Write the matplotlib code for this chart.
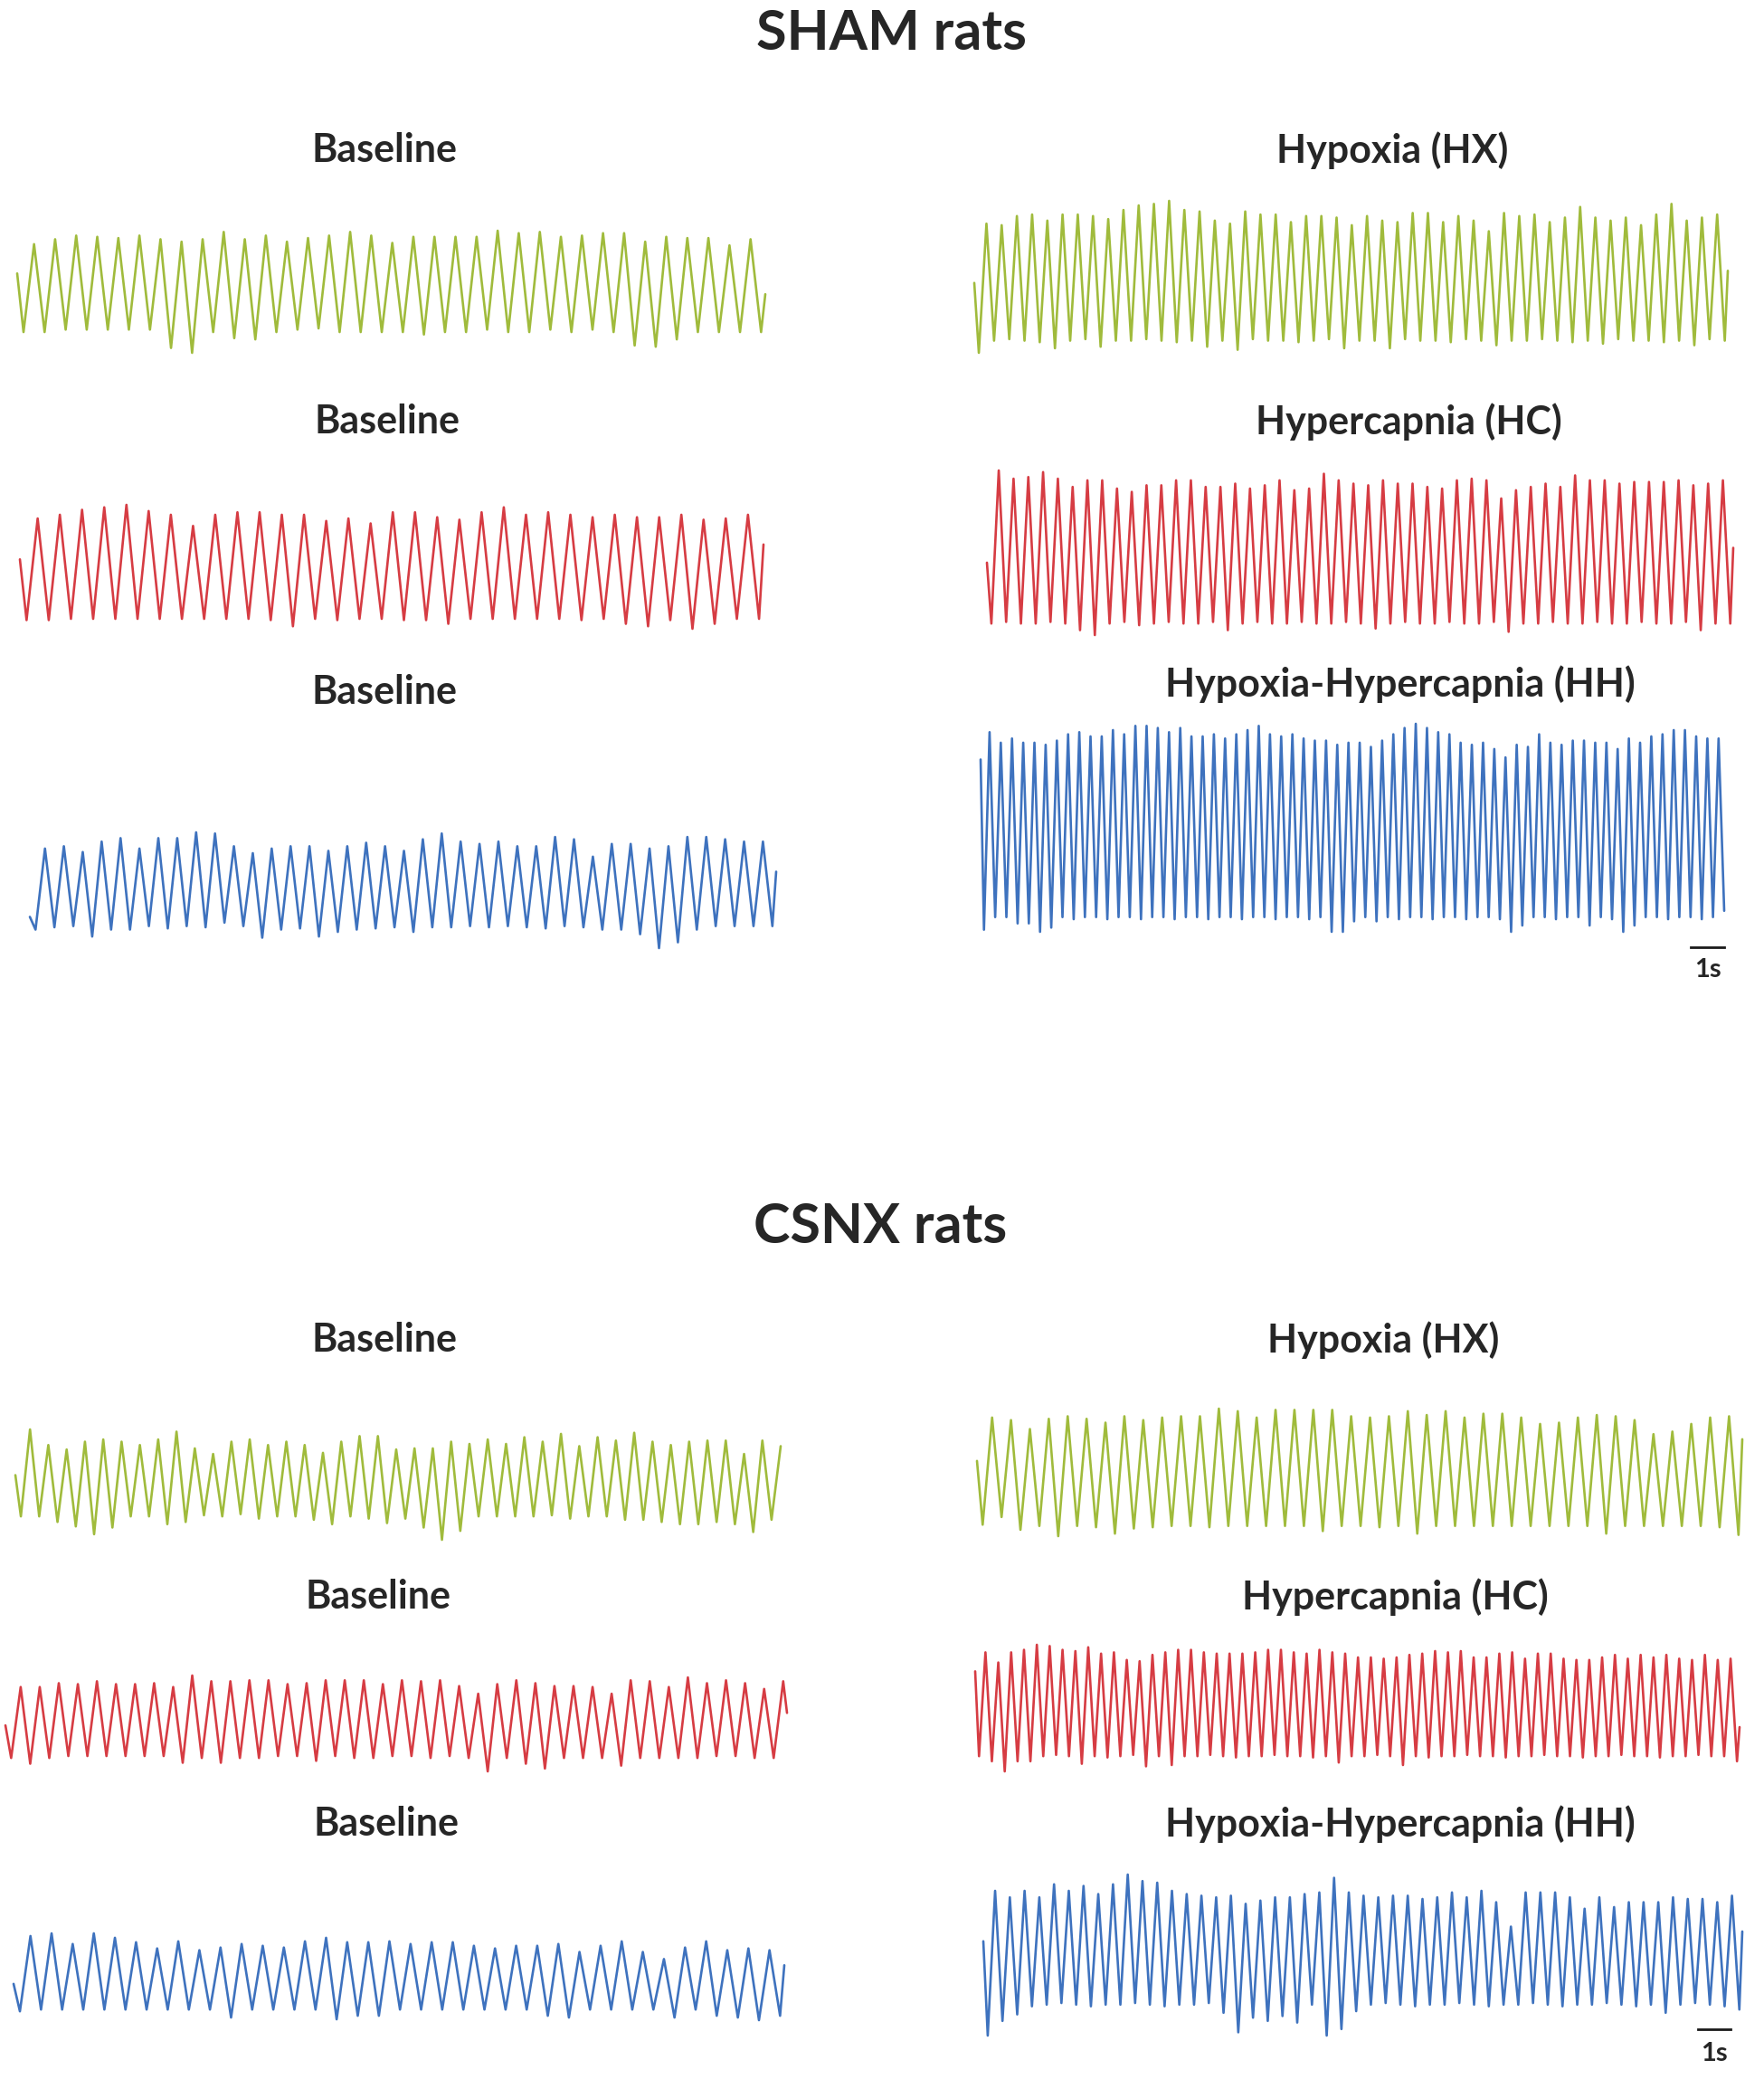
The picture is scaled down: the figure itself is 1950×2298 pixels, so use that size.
import matplotlib
matplotlib.use("Agg")
import matplotlib.pyplot as plt
from matplotlib.lines import Line2D

W, H = 1950, 2298
FONT = ["Lato", "DejaVu Sans"]
GREEN = "#a0bb3c"
RED = "#d63c43"
BLUE = "#3e72be"
TXT = "#262626"

# ---- SHAM rats (0 = lowest point, 100 = highest point of each trace)
sham_base1_start, sham_base1_end = 65, 48
sham_base1_peaks = [89, 93, 96, 95, 94, 96, 93, 91, 93, 99, 93, 96, 91, 94, 96, 99, 96, 90,
                    95, 95, 95, 95, 100, 98, 99, 95, 96, 98, 98, 91, 95, 94, 94, 88, 93]
sham_base1_troughs = [17, 17, 19, 19, 19, 19, 19, 4, 0, 17, 12, 11, 17, 19, 20, 17, 17, 17,
                      17, 15, 17, 17, 19, 17, 17, 19, 17, 19, 17, 6, 5, 11, 17, 17, 17, 17]

sham_hx_start, sham_hx_end = 46, 54
sham_hx_peaks = [85, 84, 90, 91, 87, 91, 91, 90, 88, 94, 97, 98, 100, 94, 93, 87, 85, 93,
                 91, 91, 86, 90, 90, 89, 84, 90, 87, 86, 92, 92, 86, 90, 87, 80, 92, 90,
                 91, 86, 89, 96, 89, 87, 89, 84, 91, 98, 87, 89, 91]
sham_hx_troughs = [0, 8, 9, 8, 7, 3, 8, 9, 4, 8, 8, 9, 8, 7, 8, 4, 8, 2, 9, 8, 8, 7, 8, 9, 3,
                   8, 8, 3, 9, 8, 8, 7, 9, 8, 5, 8, 8, 9, 8, 7, 8, 6, 9, 8, 8, 7, 8, 5, 9, 8]

sham_base2_start, sham_base2_end = 56, 68
sham_base2_peaks = [89, 92, 96, 98, 100, 95, 92, 83, 92, 94, 94, 92, 92, 87, 89, 85, 94,
                    94, 90, 88, 94, 98, 92, 94, 92, 90, 92, 90, 90, 92, 88, 89, 92]
sham_base2_troughs = [7, 7, 8, 8, 8, 8, 8, 8, 8, 8, 8, 7, 2, 8, 7, 8, 8, 7, 7, 4, 8, 8, 8,
                      8, 8, 7, 8, 4, 2, 7, 0, 4, 8, 8]

sham_hc_start, sham_hc_end = 44, 53
sham_hc_peaks = [100, 95, 96, 99, 95, 90, 94, 94, 89, 87, 91, 91, 94, 94, 90, 90, 92, 89,
                 91, 94, 88, 89, 98, 94, 92, 91, 94, 92, 92, 90, 89, 94, 95, 94, 83, 88,
                 90, 92, 90, 97, 94, 94, 92, 93, 93, 93, 94, 91, 92, 94]
sham_hc_troughs = [7, 8, 7, 7, 8, 7, 3, 0, 7, 8, 6, 7, 8, 7, 7, 8, 3, 7, 8, 7, 7, 8, 7, 7,
                   8, 7, 4, 7, 8, 7, 7, 8, 7, 7, 8, 2, 7, 7, 8, 7, 7, 8, 7, 7, 8, 7, 7, 8,
                   3, 7, 7]

sham_base3_start, sham_base3_end = 27, 66
sham_base3_peaks = [86, 88, 83, 92, 95, 86, 95, 95, 100, 99, 88, 82, 86, 88, 88, 84, 88,
                    91, 88, 84, 94, 99, 92, 90, 92, 88, 88, 96, 94, 79, 90, 90, 86, 88,
                    96, 96, 94, 92, 92]
sham_base3_troughs = [16, 18, 19, 10, 16, 16, 19, 17, 19, 18, 22, 19, 9, 16, 17, 10, 14,
                      16, 17, 18, 14, 18, 18, 19, 18, 19, 18, 17, 19, 18, 16, 16, 12, 0,
                      5, 16, 19, 19, 19, 19]

sham_hh_start, sham_hh_end = 83, None
sham_hh_peaks = [96, 91, 93, 91, 91, 90, 92, 95, 96, 94, 94, 97, 95, 99, 99, 98, 96, 98,
                 94, 94, 95, 93, 95, 97, 99, 95, 94, 95, 93, 92, 92, 90, 91, 91, 89, 92,
                 95, 98, 100, 98, 96, 95, 91, 90, 91, 88, 84, 90, 89, 95, 91, 90, 92, 92,
                 91, 91, 88, 93, 91, 94, 95, 97, 97, 94, 93, 93]
sham_hh_troughs = [2, 8, 8, 5, 5, 1, 3, 8, 7, 8, 8, 7, 8, 8, 7, 8, 8, 7, 8, 8, 7, 8, 8, 7,
                   8, 8, 7, 8, 8, 7, 8, 1, 1, 6, 8, 6, 8, 7, 8, 8, 7, 8, 8, 7, 8, 8, 7, 1,
                   4, 8, 8, 7, 8, 8, 4, 8, 7, 1, 4, 8, 8, 7, 8, 8, 7, 8, 11]

# ---- CSNX rats
csnx_base1_start, csnx_base1_end = 58, None
csnx_base1_peaks = [99, 85, 81, 88, 90, 88, 85, 90, 97, 82, 77, 88, 90, 85, 88, 85, 78,
                    88, 93, 93, 81, 82, 82, 88, 86, 90, 86, 92, 88, 95, 84, 92, 89, 96,
                    88, 85, 88, 89, 89, 77, 89, 84]
csnx_base1_troughs = [21, 21, 16, 12, 5, 11, 21, 21, 14, 16, 22, 21, 23, 19, 21, 21, 18,
                      14, 21, 19, 15, 19, 11, 0, 8, 21, 21, 21, 21, 22, 19, 21, 21, 18,
                      18, 16, 14, 14, 16, 14, 7, 18]

csnx_hx_start, csnx_hx_end = 59, 76
csnx_hx_peaks = [93, 91, 84, 92, 94, 92, 89, 94, 91, 93, 94, 94, 100, 98, 93, 99, 99, 99,
                 99, 94, 93, 94, 98, 95, 98, 93, 96, 96, 93, 88, 89, 93, 95, 94, 91, 80,
                 82, 88, 93, 94]
csnx_hx_troughs = [9, 15, 5, 8, 0, 8, 7, 2, 6, 7, 8, 8, 7, 8, 8, 8, 8, 8, 4, 8, 8, 7, 8,
                   2, 8, 8, 8, 8, 8, 8, 8, 8, 8, 2, 8, 8, 8, 8, 8, 7, 1]

csnx_base2_start, csnx_base2_end = 48, 61
csnx_base2_peaks = [88, 88, 92, 91, 94, 91, 91, 92, 88, 100, 94, 94, 95, 95, 91, 92, 95,
                    95, 95, 91, 95, 94, 95, 89, 81, 91, 95, 92, 89, 89, 88, 81, 95, 94,
                    88, 98, 92, 95, 92, 86, 94]
csnx_base2_troughs = [14, 8, 14, 16, 16, 16, 16, 16, 16, 9, 14, 9, 14, 14, 16, 16, 11, 16,
                      14, 14, 16, 16, 14, 16, 14, 0, 14, 8, 3, 14, 14, 14, 6, 14, 14, 14,
                      14, 16, 16, 14, 14]

csnx_hc_start, csnx_hc_end = 79, 35
csnx_hc_peaks = [94, 86, 94, 96, 100, 99, 96, 95, 98, 93, 94, 88, 87, 92, 94, 96, 96, 94,
                 93, 93, 93, 94, 96, 96, 94, 93, 96, 94, 93, 90, 90, 89, 90, 92, 93, 95,
                 94, 95, 90, 90, 93, 94, 89, 93, 93, 89, 88, 88, 90, 92, 89, 92, 90, 92,
                 89, 88, 92, 88, 89]
csnx_hc_troughs = [12, 8, 0, 8, 8, 12, 13, 12, 6, 12, 11, 12, 13, 4, 12, 5, 12, 12, 13,
                   12, 11, 12, 12, 13, 12, 12, 11, 12, 7, 12, 12, 13, 12, 5, 12, 11, 12,
                   12, 13, 12, 12, 11, 12, 12, 13, 12, 12, 11, 12, 12, 13, 12, 12, 11,
                   12, 12, 13, 12, 12, 8]

csnx_base3_start, csnx_base3_end = 43, 64
csnx_base3_peaks = [97, 100, 88, 100, 95, 90, 83, 91, 81, 84, 88, 86, 84, 91, 95, 90, 90,
                    91, 88, 90, 90, 86, 83, 86, 86, 88, 79, 86, 91, 79, 71, 84, 91, 81,
                    83, 81]
csnx_base3_troughs = [12, 14, 14, 14, 14, 14, 14, 14, 14, 14, 5, 14, 14, 14, 14, 3, 7, 7,
                      14, 14, 14, 14, 14, 14, 14, 7, 5, 14, 14, 14, 14, 5, 14, 7, 5, 2, 7]

csnx_hh_start, csnx_hh_end = 59, 65
csnx_hh_peaks = [90, 86, 90, 86, 94, 90, 93, 88, 94, 100, 96, 95, 90, 88, 87, 86, 87, 82,
                 84, 86, 86, 88, 89, 98, 89, 87, 86, 87, 87, 85, 86, 89, 86, 90, 83, 68,
                 89, 89, 89, 86, 79, 86, 80, 83, 83, 83, 86, 85, 85, 83, 87]
csnx_hh_troughs = [1, 10, 14, 19, 20, 21, 20, 19, 20, 20, 21, 20, 19, 20, 20, 21, 15, 3,
                   12, 10, 13, 9, 20, 1, 5, 16, 20, 21, 20, 19, 20, 20, 21, 20, 19, 20,
                   20, 21, 20, 19, 20, 20, 21, 20, 19, 20, 15, 20, 21, 20, 19, 17]

fig = plt.figure(figsize=(W / 100, H / 100), dpi=100)


def add_trace(box, start, troughs, peaks, end, color):
    x0, y0, x1, y1 = box
    ax = fig.add_axes([x0 / W, 1 - y1 / H, (x1 - x0) / W, (y1 - y0) / H])
    t = [0.0]
    v = [start]
    for k, p in enumerate(peaks):
        t += [k + 0.3, k + 0.8]
        v += [troughs[k], p]
    n = len(peaks)
    if len(troughs) > n:
        t.append(n + 0.3)
        v.append(troughs[n])
    if end is not None:
        t.append(t[-1] + 0.2)
        v.append(end)
    ax.plot(t, v, color=color, lw=1.9, clip_on=False, solid_joinstyle="round",
            solid_capstyle="round")
    ax.set_xlim(t[0], t[-1])
    ax.set_ylim(min(v), max(v))
    ax.axis("off")


def label(x, y, s, size, weight="bold"):
    fig.text(x / W, 1 - y / H, s, ha="center", va="center", fontsize=size,
             fontweight=weight, color=TXT, family=FONT)


def scale_bar(x0, x1, y, ty):
    fig.add_artist(Line2D([x0 / W, x1 / W], [1 - y / H, 1 - y / H], color="#1a1a1a", lw=2))
    label((x0 + x1) / 2, ty, "1s", 21)


# SHAM
label(985, 37, "SHAM rats", 44)
label(425, 166, "Baseline", 31)
label(1539, 166, "Hypoxia (HX)", 31)
label(428, 466, "Baseline", 31)
label(1557, 466, "Hypercapnia (HC)", 31)
label(425, 765, "Baseline", 31)
label(1548, 756, "Hypoxia-Hypercapnia (HH)", 31)

add_trace((19, 255, 846, 390), sham_base1_start, sham_base1_troughs, sham_base1_peaks, sham_base1_end, GREEN)
add_trace((1077, 222, 1910, 390), sham_hx_start, sham_hx_troughs, sham_hx_peaks, sham_hx_end, GREEN)
add_trace((22, 558, 844, 695), sham_base2_start, sham_base2_troughs, sham_base2_peaks, sham_base2_end, RED)
add_trace((1091, 520, 1916, 702), sham_hc_start, sham_hc_troughs, sham_hc_peaks, sham_hc_end, RED)
add_trace((33, 920, 858, 1048), sham_base3_start, sham_base3_troughs, sham_base3_peaks, sham_base3_end, BLUE)
add_trace((1084, 800, 1906, 1030), sham_hh_start, sham_hh_troughs, sham_hh_peaks, sham_hh_end, BLUE)
scale_bar(1869, 1906, 1047, 1072)

# CSNX
label(973, 1356, "CSNX rats", 44)
label(425, 1481, "Baseline", 31)
label(1529, 1481, "Hypoxia (HX)", 31)
label(418, 1765, "Baseline", 31)
label(1542, 1765, "Hypercapnia (HC)", 31)
label(427, 2016, "Baseline", 31)
label(1548, 2016, "Hypoxia-Hypercapnia (HH)", 31)

add_trace((17, 1580, 863, 1702), csnx_base1_start, csnx_base1_troughs, csnx_base1_peaks, csnx_base1_end, GREEN)
add_trace((1080, 1557, 1926, 1698), csnx_hx_start, csnx_hx_troughs, csnx_hx_peaks, csnx_hx_end, GREEN)
add_trace((6, 1852, 870, 1958), csnx_base2_start, csnx_base2_troughs, csnx_base2_peaks, csnx_base2_end, RED)
add_trace((1078, 1818, 1923, 1958), csnx_hc_start, csnx_hc_troughs, csnx_hc_peaks, csnx_hc_end, RED)
add_trace((15, 2137, 867, 2233), csnx_base3_start, csnx_base3_troughs, csnx_base3_peaks, csnx_base3_end, BLUE)
add_trace((1087, 2072, 1926, 2250), csnx_hh_start, csnx_hh_troughs, csnx_hh_peaks, csnx_hh_end, BLUE)
scale_bar(1877, 1913, 2243, 2270)

fig.savefig("out.png", dpi=100, facecolor="white")
